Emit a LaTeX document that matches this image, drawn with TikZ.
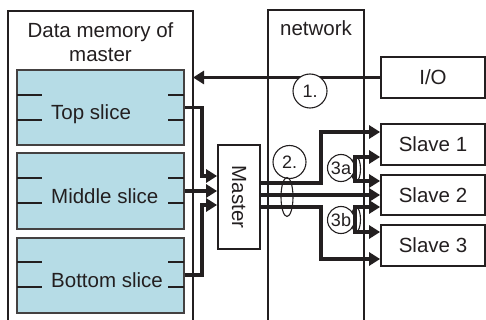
\documentclass[tikz,border=0pt]{standalone}
\usepackage{fontspec}
\setmainfont{Liberation Sans}
\usetikzlibrary{arrows.meta}
\definecolor{slicefill}{RGB}{182,220,230}
\definecolor{ink}{RGB}{35,31,32}
\begin{document}
\begin{tikzpicture}[x=1pt,y=-1pt,
  >={Triangle[length=11pt,width=13pt]},
  every node/.style={text=ink, font=\fontsize{20.5}{23}\selectfont, inner sep=0pt},
  box/.style={draw=ink, line width=1.8pt, fill=white, rectangle},
  slicebox/.style={draw=ink!85, line width=2pt, fill=slicefill, rectangle, minimum width=167pt, minimum height=75pt},
  bus/.style={draw=ink, line width=3.4pt},
  arr/.style={bus, ->},
  thinline/.style={draw=ink, line width=1.3pt},
  tick/.style={draw=ink, line width=1.8pt},
  num/.style={circle, draw=ink, line width=1.1pt, fill=white, font=\fontsize{18}{18}\selectfont},
]
\useasboundingbox (0,0) rectangle (486,320);

% enclosing boxes
\draw[ink, line width=1.9pt] (8,320) -- (8,11) -- (193,11) -- (193,320);
\draw[thinline] (268,320) -- (268,10) -- (364,10) -- (364,320);
\node[anchor=base] (hd1) at (100.5,38) {Data memory of};
\node[anchor=base] (hd2) at (100.5,62) {master};
\node[anchor=base] (nw) at (316,36) {network};

% slices
\node[slicebox] (ts) at (100.5,107.5) {};
\node[slicebox] (ms) at (100.5,191) {};
\node[slicebox] (bs) at (100.5,275) {};
\foreach \t in {70,153,237}{
  \draw[tick] (17,\t+25) -- (42,\t+25);
  \draw[tick] (17,\t+50) -- (42,\t+50);
  \draw[tick] (168,\t+25) -- (184,\t+25);
  \draw[tick] (168,\t+50) -- (184,\t+50);
}
\node[anchor=base west] (tst) at (51,120) {Top slice};
\node[anchor=base west] (mst) at (51,203) {Middle slice};
\node[anchor=base west] (bst) at (51,287) {Bottom slice};

% master
\node[box, minimum width=42pt, minimum height=104pt] (ma) at (239,197) {};
\node[rotate=-90] (mat) at (ma.center) {Master};

% right boxes
\node[box, minimum width=104pt, minimum height=41pt] (io) at (433,77.5) {I/O};
\node[box, minimum width=104pt, minimum height=41pt] (s1) at (433,144.5) {Slave 1};
\node[box, minimum width=104pt, minimum height=40pt] (s2) at (433,195) {Slave 2};
\node[box, minimum width=104pt, minimum height=41pt] (s3) at (433,245.5) {Slave 3};

% I/O to memory
\coordinate (memr) at (193,77.5);
\draw[arr] (io.west) -- (memr);

% slices to master
\draw[arr] (ts.east) -- (202,107.5) |- (ma.west |- 0,176);
\draw[arr] (ms.east) -- (ma.west |- 0,191);
\draw[arr] (bs.east) -- (202,275) |- (ma.west |- 0,205);

% master to slaves
\draw[arr] (ma.east |- 0,183) -- (321,183) |- (s1.west |- 0,132);
\draw[arr] (ma.east |- 0,195) -- (s2.west |- 0,195);
\draw[arr] (ma.east |- 0,207) -- (321,207) |- (s3.west |- 0,259);

% labels
\node[num, minimum size=34pt] (c1) at (310,91) {1.};
\node[num, minimum size=33pt] (c2) at (289.5,162) {2.};
\draw[ink, line width=1.1pt] (287,197) ellipse [x radius=6, y radius=19.5];

% 3a / 3b forks
\coordinate (fa1) at (355,157);
\coordinate (fa2) at (355,181);
\coordinate (fb1) at (355,207);
\coordinate (fb2) at (355,232);
\draw[ink, line width=1.1pt] (356,169) ellipse [x radius=4.5, y radius=12.5];
\draw[ink, line width=1.1pt] (356,219.5) ellipse [x radius=4.5, y radius=12.5];
\node[num, minimum size=27pt] (c3a) at (341,168) {3a};
\node[num, minimum size=27pt] (c3b) at (341,220) {3b};
\draw[bus, <->] (s1.west |- fa1) -- (fa1) -- (fa2) -- (s2.west |- fa2);
\draw[bus, <->] (s2.west |- fb1) -- (fb1) -- (fb2) -- (s3.west |- fb2);
\end{tikzpicture}
\end{document}
